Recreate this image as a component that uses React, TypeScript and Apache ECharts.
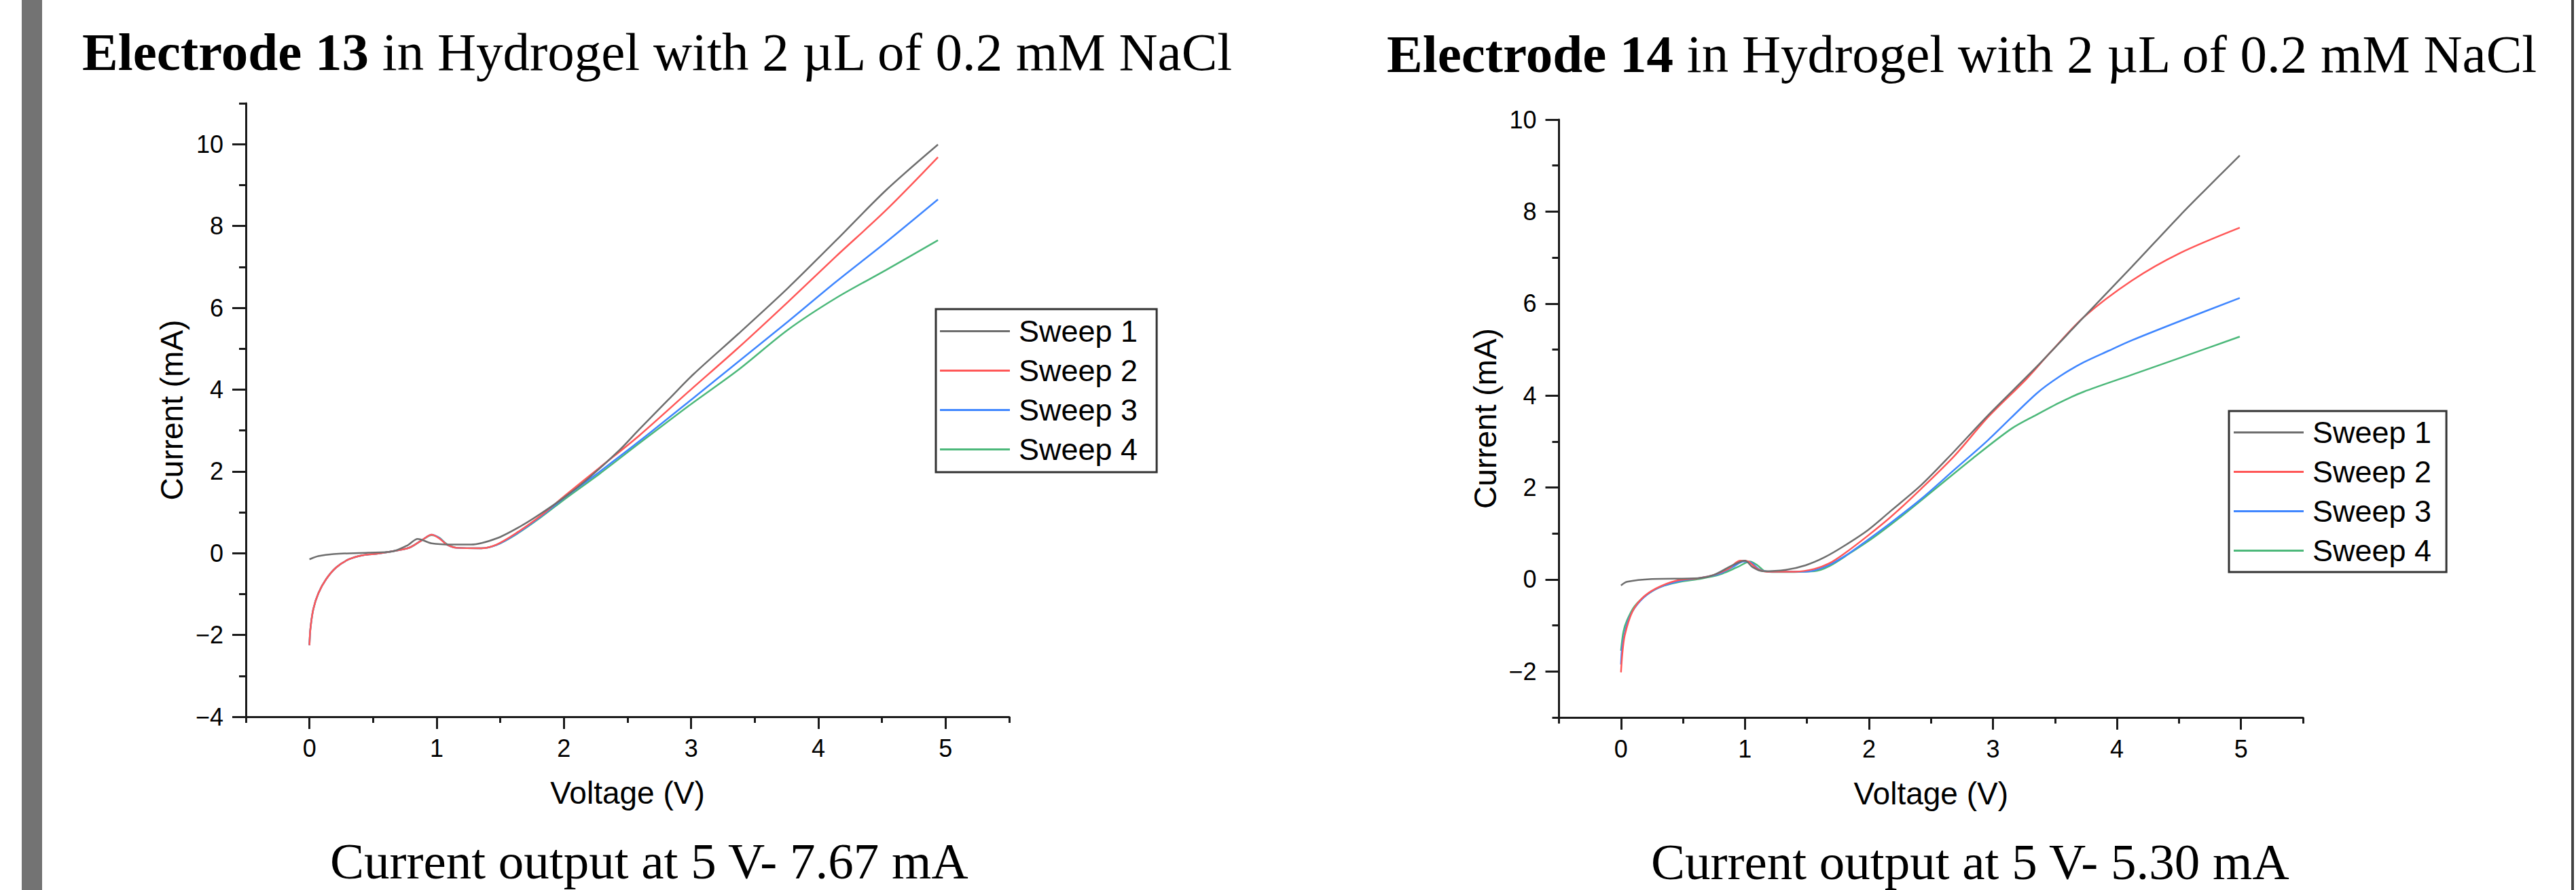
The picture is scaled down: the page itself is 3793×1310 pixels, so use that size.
import React, { useEffect, useRef } from 'react';
import * as echarts from 'echarts';

const sweepNames = ['Sweep 1', 'Sweep 2', 'Sweep 3', 'Sweep 4'];
const sweepColors = ['#6e6e6e', '#ff5757', '#3f86ff', '#4cb87a'];

const xMajorTicks = [0, 1, 2, 3, 4, 5];
const xMinorTicks = [-0.5, 0.5, 1.5, 2.5, 3.5, 4.5, 5.5];
const e13YMajor = [-4, -2, 0, 2, 4, 6, 8, 10];
const e13YMinor = [-3, -1, 1, 3, 5, 7, 9, 11];
const e14YMajor = [-2, 0, 2, 4, 6, 8, 10];
const e14YMinor = [-3, -1, 1, 3, 5, 7, 9];

const title13Bold = 'Electrode 13';
const title14Bold = 'Electrode 14';
const titleRest = ' in Hydrogel with 2 µL of 0.2 mM NaCl';
const caption13 = 'Current output at 5 V- 7.67 mA';
const caption14 = 'Current output at 5 V- 5.30 mA';

// Electrode 13
const e13S1V = [0, 0.07, 0.19, 0.46, 0.65, 0.77, 0.85, 0.96, 1.12, 1.27, 1.47, 1.66, 1.82, 2.01, 2.2, 2.44, 2.59, 2.82, 3.02, 3.37, 3.76, 4.14, 4.53, 4.94];
const e13S1I = [-0.15, -0.07, -0.02, 0.01, 0.04, 0.19, 0.35, 0.24, 0.21, 0.21, 0.36, 0.66, 0.97, 1.38, 1.85, 2.53, 3.02, 3.75, 4.38, 5.36, 6.48, 7.65, 8.87, 9.99];
const e13S2V = [0, 0.007, 0.03, 0.07, 0.13, 0.21, 0.31, 0.42, 0.54, 0.68, 0.79, 0.89, 0.96, 1.02, 1.08, 1.16, 1.35, 1.47, 1.62, 1.82, 2.01, 2.28, 2.59, 2.98, 3.37, 3.76, 4.14, 4.53, 4.94];
const e13S2I = [-2.25, -1.86, -1.37, -0.98, -0.64, -0.35, -0.15, -0.05, -0.01, 0.06, 0.14, 0.33, 0.45, 0.36, 0.21, 0.13, 0.12, 0.21, 0.48, 0.92, 1.41, 2.09, 2.87, 3.95, 5.02, 6.14, 7.26, 8.38, 9.68];
const e13S3V = [0, 0.007, 0.03, 0.07, 0.13, 0.21, 0.31, 0.42, 0.54, 0.68, 0.79, 0.89, 0.96, 1.02, 1.08, 1.16, 1.35, 1.47, 1.62, 1.82, 2.01, 2.28, 2.59, 2.98, 3.37, 3.76, 4.14, 4.53, 4.94];
const e13S3I = [-2.25, -1.86, -1.37, -0.98, -0.64, -0.35, -0.15, -0.05, -0.01, 0.06, 0.14, 0.33, 0.45, 0.37, 0.21, 0.13, 0.12, 0.2, 0.46, 0.9, 1.37, 1.99, 2.73, 3.7, 4.68, 5.66, 6.64, 7.6, 8.65];
const e13S4V = [0, 0.007, 0.03, 0.07, 0.13, 0.21, 0.31, 0.42, 0.54, 0.68, 0.79, 0.89, 0.96, 1.02, 1.08, 1.16, 1.35, 1.47, 1.62, 1.82, 2.01, 2.28, 2.59, 2.98, 3.37, 3.76, 4.14, 4.53, 4.94];
const e13S4I = [-2.25, -1.86, -1.37, -0.98, -0.64, -0.35, -0.15, -0.05, -0.01, 0.06, 0.14, 0.33, 0.44, 0.38, 0.22, 0.13, 0.12, 0.2, 0.45, 0.88, 1.33, 1.94, 2.68, 3.6, 4.48, 5.46, 6.24, 6.92, 7.65];

// Electrode 14
const e14S1V = [0, 0.05, 0.25, 0.63, 0.75, 0.9, 1.0, 1.06, 1.14, 1.33, 1.49, 1.64, 1.8, 1.99, 2.18, 2.42, 2.65, 2.96, 3.35, 3.73, 4.12, 4.51, 4.7, 4.99];
const e14S1I = [-0.13, -0.05, 0.01, 0.03, 0.1, 0.31, 0.41, 0.27, 0.18, 0.21, 0.31, 0.48, 0.73, 1.07, 1.5, 2.05, 2.68, 3.57, 4.62, 5.7, 6.8, 7.92, 8.44, 9.22];
const e14S2V = [0, 0.01, 0.03, 0.09, 0.17, 0.28, 0.44, 0.63, 0.75, 0.87, 0.96, 1.02, 1.1, 1.18, 1.41, 1.56, 1.68, 1.8, 1.99, 2.18, 2.42, 2.69, 2.96, 3.27, 3.46, 3.73, 4.12, 4.51, 4.99];
const e14S2I = [-2.02, -1.64, -1.22, -0.71, -0.41, -0.2, -0.03, 0.03, 0.1, 0.24, 0.41, 0.4, 0.23, 0.17, 0.17, 0.23, 0.35, 0.56, 0.95, 1.37, 1.97, 2.69, 3.53, 4.36, 4.93, 5.7, 6.5, 7.1, 7.65];
const e14S3V = [0, 0.01, 0.05, 0.11, 0.21, 0.32, 0.48, 0.63, 0.79, 0.9, 0.99, 1.04, 1.12, 1.21, 1.49, 1.64, 1.8, 1.99, 2.18, 2.42, 2.69, 2.96, 3.35, 3.54, 3.73, 3.93, 4.12, 4.51, 4.99];
const e14S3I = [-1.85, -1.47, -0.96, -0.62, -0.33, -0.16, -0.03, 0.03, 0.12, 0.27, 0.39, 0.38, 0.21, 0.17, 0.17, 0.27, 0.5, 0.86, 1.24, 1.75, 2.39, 3.03, 4.04, 4.42, 4.72, 4.97, 5.2, 5.62, 6.12];
const e14S4V = [0, 0.02, 0.05, 0.11, 0.21, 0.32, 0.48, 0.63, 0.79, 0.94, 1.04, 1.1, 1.16, 1.25, 1.56, 1.68, 1.84, 2.03, 2.26, 2.53, 2.84, 3.15, 3.35, 3.54, 3.73, 4.12, 4.51, 4.99];
const e14S4I = [-1.55, -1.13, -0.88, -0.58, -0.33, -0.16, -0.05, 0.01, 0.1, 0.27, 0.39, 0.31, 0.18, 0.16, 0.18, 0.29, 0.56, 0.9, 1.37, 1.96, 2.64, 3.28, 3.58, 3.85, 4.08, 4.45, 4.82, 5.28];

const e13V = [e13S1V, e13S2V, e13S3V, e13S4V];
const e13I = [e13S1I, e13S2I, e13S3I, e13S4I];
const e14V = [e14S1V, e14S2V, e14S3V, e14S4V];
const e14I = [e14S1I, e14S2I, e14S3I, e14S4I];

const zip = (xs: number[], ys: number[]) => xs.map((x, i) => [x, ys[i]]);
const minusFmt = (v: number) => String(v).replace('-', '\u2212');

const SANS = 'Liberation Sans';
const SERIF = 'Liberation Serif';
const AX = '#1a1a1a';

function xAxes(gridIndex: number) {
  const base = { type: 'value', gridIndex, min: -0.5, max: 5.5, position: 'bottom', splitLine: { show: false } };
  return [
    {
      ...base,
      name: 'Voltage (V)',
      nameLocation: 'middle',
      nameGap: 89,
      nameTextStyle: { fontFamily: SANS, fontSize: 46, color: '#000' },
      axisLine: { show: true, onZero: false, lineStyle: { color: AX, width: 3 } },
      axisTick: { show: true, customValues: xMajorTicks, length: 18, lineStyle: { color: AX, width: 3 } },
      axisLabel: { show: true, customValues: xMajorTicks, margin: 28, fontFamily: SANS, fontSize: 36, color: '#000' },
    },
    {
      ...base,
      interval: 0.5,
      axisLine: { show: false, onZero: false },
      axisTick: { show: true, customValues: xMinorTicks, length: 9, lineStyle: { color: AX, width: 3 } },
      axisLabel: { show: false },
    },
  ];
}

function yAxes(gridIndex: number, min: number, max: number, major: number[], minor: number[]) {
  const base = { type: 'value', gridIndex, min, max, position: 'left', splitLine: { show: false } };
  return [
    {
      ...base,
      name: 'Current (mA)',
      nameLocation: 'middle',
      nameGap: 86,
      nameTextStyle: { fontFamily: SANS, fontSize: 46, color: '#000' },
      axisLine: { show: true, onZero: false, lineStyle: { color: AX, width: 3 } },
      axisTick: { show: true, customValues: major, length: 20, lineStyle: { color: AX, width: 3 } },
      axisLabel: { show: true, customValues: major, margin: 33, fontFamily: SANS, fontSize: 36, color: '#000', formatter: minusFmt },
    },
    {
      ...base,
      axisLine: { show: false, onZero: false },
      axisTick: { show: true, customValues: minor, length: 10, lineStyle: { color: AX, width: 3 } },
      axisLabel: { show: false },
    },
  ];
}

function seriesFor(V: number[][], I: number[][], axisIndex: number) {
  return sweepNames.map((name, k) => ({
    type: 'line',
    name,
    xAxisIndex: axisIndex,
    yAxisIndex: axisIndex,
    data: zip(V[k], I[k]),
    symbol: 'none',
    showSymbol: false,
    smooth: 0.3,
    color: sweepColors[k],
    lineStyle: { width: 2.5, color: sweepColors[k] },
    z: 10 - k,
  }));
}

function legendAt(left: number, top: number, padding: number[]) {
  return {
    data: sweepNames.map((name) => ({ name, icon: 'rect' })),
    orient: 'vertical',
    left,
    top,
    padding,
    itemWidth: 103,
    itemHeight: 3,
    itemGap: 13,
    selectedMode: false,
    backgroundColor: '#fff',
    borderColor: '#333',
    borderWidth: 3,
    borderRadius: 0,
    textStyle: { fontFamily: SANS, fontSize: 45, lineHeight: 44, color: '#000', padding: [0, 0, 0, 8] },
  };
}

function titleText(x: number, y: number, bold: string) {
  return {
    type: 'text',
    x,
    y,
    style: {
      text: `{b|${bold}}{r|${titleRest}}`,
      align: 'left',
      verticalAlign: 'middle',
      fill: '#000',
      fontFamily: SERIF,
      fontSize: 79,
      rich: {
        b: { fontFamily: SERIF, fontSize: 79, fontWeight: 'bold', fill: '#000' },
        r: { fontFamily: SERIF, fontSize: 79, fontWeight: 'normal', fill: '#000' },
      },
    },
  };
}

function captionText(x: number, y: number, text: string) {
  return {
    type: 'text',
    x,
    y,
    style: { text, align: 'left', verticalAlign: 'middle', fill: '#000', fontFamily: SERIF, fontSize: 75 },
  };
}

export default function App() {
  const ref = useRef<HTMLDivElement>(null);
  useEffect(() => {
    if (!ref.current) return;
    const chart = echarts.init(ref.current, null, { renderer: 'svg' });
    chart.setOption({
      animation: false,
      backgroundColor: '#ffffff',
      grid: [
        { left: 362, top: 152, width: 1124, height: 903 },
        { left: 2295.5, top: 176, width: 1095.5, height: 880 },
      ],
      xAxis: [...xAxes(0), ...xAxes(1)],
      yAxis: [...yAxes(0, -4, 11, e13YMajor, e13YMinor), ...yAxes(1, -3, 10, e14YMajor, e14YMinor)],
      legend: [legendAt(1378, 455, [10, 28, 11, 6]), legendAt(3282, 605, [9, 22, 9, 7])],
      series: [...seriesFor(e13V, e13I, 0), ...seriesFor(e14V, e14I, 2)],
      graphic: [
        { type: 'rect', shape: { x: 32, y: 0, width: 30, height: 1310 }, style: { fill: '#737373' } },
        { type: 'rect', shape: { x: 3786, y: 0, width: 4, height: 1310 }, style: { fill: '#444' } },
        titleText(121, 76, title13Bold),
        titleText(2042, 79, title14Bold),
        captionText(486, 1267, caption13),
        captionText(2431, 1268, caption14),
      ],
    });
    return () => chart.dispose();
  }, []);
  return <div ref={ref} style={{ position: 'absolute', left: 0, top: 0, width: 3793, height: 1310 }} />;
}
